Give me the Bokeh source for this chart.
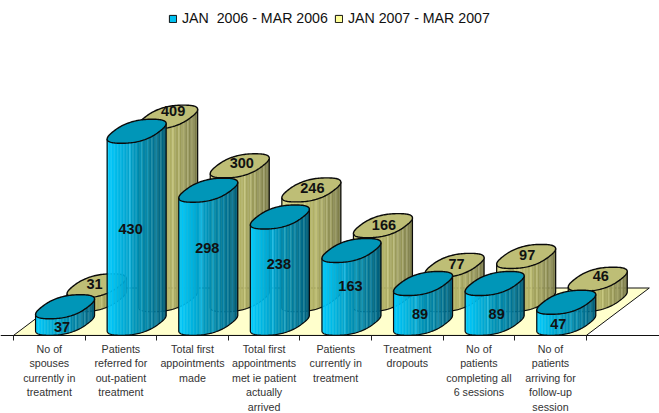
import numpy as np
from bokeh.core.properties import value
from bokeh.embed import file_html
from bokeh.models import ColumnDataSource, FixedTicker, Legend, LegendItem, LinearAxis, Range1d
from bokeh.plotting import figure
from bokeh.resources import INLINE

categories = [
    "No of\nspouses\ncurrently in\ntreatment",
    "Patients\nreferred for\nout-patient\ntreatment",
    "Total first\nappointments\nmade",
    "Total first\nappointments\nmet ie patient\nactually\narrived",
    "Patients\ncurrently in\ntreatment",
    "Treatment\ndropouts",
    "No of\npatients\ncompleting all\n6 sessions",
    "No of\npatients\narriving for\nfollow-up\nsession",
]
series_2006 = [37, 430, 298, 238, 163, 89, 89, 47]
series_2007 = [31, 409, 300, 246, 166, 77, 97, 46]
name_2006 = "JAN  2006 - MAR 2006"
name_2007 = "JAN 2007 - MAR 2007"

WIDTH, HEIGHT = 659, 413
PX_PER_CAT = 71.6      # horizontal pixels per category slot
PX_PER_UNIT = 0.4465   # vertical pixels per patient
X0_PX, Y0_PX = 13.0, 334.5

# Oblique floor: the depth vector in data units
DEPTH_X = 63 / PX_PER_CAT
DEPTH_Y = 47 / PX_PER_UNIT
HALF_W = 29.5 / PX_PER_CAT
HALF_H = 12.0 / PX_PER_UNIT


def px_x(px):
    return (px - X0_PX) / PX_PER_CAT


def px_y(py):
    return (Y0_PX - py) / PX_PER_UNIT


p = figure(
    width=WIDTH, height=HEIGHT, output_backend="svg", toolbar_location=None,
    x_range=Range1d(px_x(0), px_x(WIDTH)), y_range=Range1d(px_y(HEIGHT), px_y(0)),
    x_axis_type=None, y_axis_type=None, min_border=0, outline_line_color=None,
)
p.grid.visible = False

# Floor of the chart
p.patch(
    [0, 8, 8 + DEPTH_X, DEPTH_X], [-1, -1, DEPTH_Y, DEPTH_Y],
    fill_color="#FFFFCC", line_color="#111111", line_width=1,
)

# Baseline with tick marks between the categories
axis = LinearAxis(
    ticker=FixedTicker(ticks=[], minor_ticks=list(range(9))),
    fixed_location=-1, major_label_text_font_size="0px",
    major_tick_line_color=None, minor_tick_in=0, minor_tick_out=5,
    minor_tick_line_color="#222222", axis_line_color="#111111",
)
p.add_layout(axis, "below")


def cap_shape():
    """Rounded, sheared outline of a cylinder end, scaled to its half extents."""
    t = np.linspace(0, 2 * np.pi, 121)[:-1]
    k = 0.8
    su = np.sign(np.cos(t)) * np.abs(np.cos(t)) ** k
    sv = np.sign(np.sin(t)) * np.abs(np.sin(t)) ** k
    x = 24 * su + 16 * sv
    y = 12 * sv
    return x / np.abs(x).max() * HALF_W, y / np.abs(y).max() * HALF_H


CAP_X, CAP_Y = cap_shape()


def lower_arc():
    """Front edge of the cap, running left to right."""
    i_left, i_right = int(np.argmin(CAP_X)), int(np.argmax(CAP_X))
    order = np.roll(np.arange(len(CAP_X)), -i_left)
    stop = int(np.where(order == i_right)[0][0])
    path = order[: stop + 1]
    return CAP_X[path], CAP_Y[path]


ARC_X, ARC_Y = lower_arc()


def strip_color(stops, frac, highlight):
    positions = [0.0, 0.2, 0.55, 1.0]
    rgb = [np.interp(frac, positions, [s[c] for s in stops]) for c in range(3)]
    if highlight:
        rgb = [min(255, v + 26) for v in rgb]
    return "#%02x%02x%02x" % tuple(int(v) for v in rgb)


def draw_series(values, depth, stops, cap_color):
    n_strips = 40
    edges = np.linspace(-HALF_W, HALF_W, n_strips + 1)
    arc_at_edges = np.interp(edges, ARC_X, ARC_Y)
    sx, sy, colors, line_x, line_y, cap_xs, cap_ys = [], [], [], [], [], [], []
    for i, v in enumerate(values):
        cx = i + 0.5 + DEPTH_X * depth
        base = DEPTH_Y * depth
        top = base + v
        for j in range(n_strips):
            sx.append([cx + edges[j], cx + edges[j + 1], cx + edges[j + 1], cx + edges[j]])
            sy.append([
                base + arc_at_edges[j], base + arc_at_edges[j + 1],
                top + arc_at_edges[j + 1], top + arc_at_edges[j],
            ])
            colors.append(strip_color(stops, j / (n_strips - 1), j in (15, 23, 27, 30, 33, 36)))
        line_x.append(np.concatenate([[cx - HALF_W], cx + ARC_X, [cx + HALF_W]]).tolist())
        line_y.append(np.concatenate([[top + ARC_Y[0]], base + ARC_Y, [top + ARC_Y[-1]]]).tolist())
        cap_xs.append((cx + CAP_X).tolist())
        cap_ys.append((top + CAP_Y).tolist())
    p.patches(sx, sy, fill_color=colors, line_color=colors, line_width=0.4)
    p.multi_line(line_x, line_y, line_color="#0a0a0a", line_width=1.2)
    p.patches(cap_xs, cap_ys, fill_color=cap_color, line_color="#0a0a0a", line_width=1.4)


draw_series(
    series_2007, 0.75,
    [(216, 216, 140), (206, 206, 126), (176, 176, 102), (126, 126, 76)], "#BEBE76",
)
draw_series(
    series_2006, 0.25,
    [(0, 204, 255), (0, 182, 228), (0, 142, 178), (0, 96, 126)], "#0096B8",
)

# Value labels: the back series sits on its caps, the front series on the columns
back_dx = [-2, 5, 2, 1, 1, 2, 1, 3]
back_dy = [-2, -6, -3, -2, -1, -1, -1, -3]
front_dx = [-3, -6, -1, -1, -1, -3, 2, -8]
front_dy = [20, 98, 58, 47, 36, 30, 30, 22]

for values, depth, dx, dy in (
    (series_2007, 0.75, back_dx, back_dy),
    (series_2006, 0.25, front_dx, front_dy),
):
    src = ColumnDataSource(dict(
        x=[i + 0.5 + DEPTH_X * depth for i in range(8)],
        y=[DEPTH_Y * depth + v for v in values],
        text=[str(v) for v in values],
        dx=dx, dy=dy,
    ))
    p.text(
        x="x", y="y", text="text", x_offset="dx", y_offset="dy", source=src,
        text_font=value("Liberation Sans"), text_font_style="bold",
        text_font_size="14.5px", text_color="#111111",
        text_align="center", text_baseline="middle",
    )

# Category names under the axis
p.text(
    x=[i + 0.5 for i in range(8)], y=[px_y(342)] * 8, text=categories,
    text_font=value("Liberation Sans"), text_font_size="10.7px", text_color="#333333",
    text_align="center", text_baseline="top", text_line_height=1.22,
)

# Legend along the top edge; the swatch boxes lie off the visible range
swatch_a = p.quad(left=[-5], right=[-4], bottom=[0], top=[1], fill_color="#00C0F0", line_color="#111111")
swatch_b = p.quad(left=[-5], right=[-4], bottom=[0], top=[1], fill_color="#FFFF99", line_color="#111111")
legend = Legend(
    items=[LegendItem(label=name_2006, renderers=[swatch_a]),
           LegendItem(label=name_2007, renderers=[swatch_b])],
    orientation="horizontal", location=(168, HEIGHT - 26), margin=0, padding=0,
    spacing=6, glyph_width=9, glyph_height=9, label_standoff=5,
    label_text_font="Liberation Sans", label_text_font_size="14.2px",
    label_text_color="#111111", background_fill_alpha=0, border_line_color=None,
)
p.add_layout(legend)

open("out.html", "w").write(file_html(p, INLINE))
